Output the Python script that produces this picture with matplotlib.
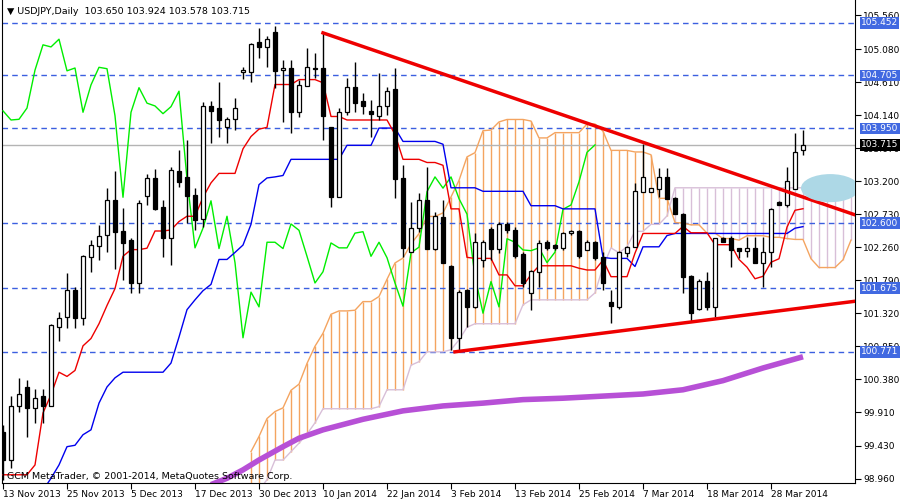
import matplotlib
matplotlib.use("Agg")
import matplotlib.pyplot as plt
import matplotlib.transforms as mtransforms
from matplotlib.patches import Ellipse
import numpy as np

# daily OHLC, one row per bar (bar 0 = 13 Nov 2013)
opens = [99.63, 99.23, 100.00, 100.26, 99.97, 100.13, 100.00, 101.12, 101.27, 101.65,
         101.25, 102.12, 102.28, 102.43, 102.92, 102.49, 102.35, 101.75, 102.99, 103.24,
         102.82, 102.39, 103.34, 103.26, 103.00, 102.66, 104.27, 104.23, 103.97, 104.08,
         104.75, 104.75, 105.17, 105.11, 105.32, 104.78, 104.80, 104.18, 104.55, 104.81,
         104.80, 103.96, 102.97, 104.18, 104.53, 104.33, 104.20, 104.13, 104.27, 104.50,
         103.24, 102.19, 102.53, 102.92, 102.24, 102.69, 101.98, 100.97, 101.64, 101.41,
         102.08, 102.52, 102.24, 102.58, 102.50, 102.16, 101.61, 101.91, 102.33, 102.28,
         102.25, 102.46, 102.49, 102.22, 102.33, 102.12, 101.47, 101.41, 102.18, 102.26,
         103.05, 103.05, 103.09, 103.26, 102.96, 102.73, 101.85, 101.38, 101.78, 101.41,
         102.39, 102.39, 102.25, 102.21, 102.25, 102.04, 102.19, 102.90, 102.86, 103.09,
         103.650]
highs = [99.73, 100.14, 100.40, 100.37, 100.24, 100.24, 101.17, 101.34, 101.89, 101.69,
         102.15, 102.36, 102.58, 103.10, 103.34, 102.82, 102.39, 102.93, 103.30, 103.37,
         102.93, 103.40, 103.64, 103.79, 103.10, 104.33, 104.34, 104.61, 104.11, 104.38,
         104.82, 105.17, 105.38, 105.27, 105.41, 104.92, 104.92, 104.64, 105.09, 105.02,
         105.31, 103.96, 104.24, 104.67, 104.90, 104.45, 104.35, 104.74, 104.54, 104.81,
         103.43, 102.90, 103.03, 103.40, 102.76, 102.93, 102.00, 101.65, 101.66, 102.46,
         102.36, 102.55, 102.62, 102.62, 102.55, 102.19, 101.93, 102.36, 102.36, 102.30,
         102.48, 102.50, 102.50, 102.36, 102.35, 102.19, 101.65, 102.20, 102.28, 103.17,
         103.73, 103.10, 103.39, 103.39, 102.97, 102.75, 101.86, 101.80, 101.91, 102.39,
         102.40, 102.42, 102.25, 102.41, 102.41, 102.41, 102.82, 102.92, 103.40, 103.88,
         103.924]
lows = [98.95, 99.12, 99.91, 99.56, 99.76, 99.76, 100.00, 100.92, 101.11, 101.11,
        101.15, 101.91, 102.08, 102.19, 101.95, 101.79, 101.61, 101.61, 102.86, 102.79,
        102.12, 102.01, 103.12, 102.60, 102.50, 102.55, 103.74, 103.83, 103.74, 103.93,
        104.65, 104.61, 104.95, 104.82, 104.53, 104.04, 103.88, 104.11, 104.55, 104.67,
        103.79, 102.83, 102.97, 104.14, 104.18, 104.16, 103.83, 104.07, 104.14, 102.96,
        102.12, 102.19, 102.48, 102.24, 102.22, 102.04, 100.80, 100.80, 101.12, 101.40,
        101.98, 102.08, 102.18, 102.46, 102.11, 101.69, 101.37, 101.69, 102.22, 102.22,
        102.22, 102.43, 102.11, 102.22, 102.08, 101.65, 101.18, 101.38, 102.12, 102.26,
        103.04, 103.04, 102.97, 102.95, 102.73, 101.61, 101.20, 101.36, 101.37, 101.27,
        102.33, 101.98, 102.11, 102.12, 102.04, 101.69, 101.98, 102.86, 102.83, 103.09,
        103.578]
closes = [99.23, 100.00, 100.17, 99.97, 100.11, 100.00, 101.14, 101.25, 101.65, 101.25,
          102.13, 102.28, 102.41, 102.92, 102.48, 102.32, 101.75, 102.89, 103.24, 102.80,
          102.39, 103.36, 103.19, 102.99, 102.65, 104.26, 104.20, 104.07, 104.08, 104.24,
          104.78, 105.14, 105.11, 105.22, 104.77, 104.81, 104.18, 104.57, 104.82, 104.80,
          104.13, 102.97, 104.18, 104.53, 104.31, 104.27, 104.16, 104.26, 104.48, 103.23,
          102.25, 102.53, 102.92, 102.24, 102.70, 102.04, 100.97, 101.62, 101.41, 102.33,
          102.33, 102.24, 102.59, 102.50, 102.13, 101.75, 101.91, 102.32, 102.25, 102.25,
          102.46, 102.48, 102.13, 102.33, 102.11, 101.75, 101.42, 102.18, 102.26, 103.05,
          103.26, 103.10, 103.26, 102.95, 102.73, 101.84, 101.32, 101.77, 101.41, 102.38,
          102.33, 102.22, 102.21, 102.25, 102.04, 102.19, 102.80, 102.86, 103.19, 103.61,
          103.715]

# indicator values before enough history exists on the chart
tenkan_early = [99.02, 99.02, 99.02, 99.02, 99.16, 99.90, 100.16, 100.48]
kijun_early = [98.80, 98.80, 98.80, 98.80, 98.80, 98.80, 98.97, 99.16, 99.42, 99.44,
               99.59, 99.66, 100.04, 100.27, 100.40, 100.48, 100.48, 100.48, 100.48, 100.48,
               100.48, 100.61, 100.98, 101.37, 101.51]
spanb_early = [98.73, 98.80, 98.95, 99.23, 99.23, 99.35, 99.47, 99.60, 99.76, 99.96,
               99.96, 99.96, 99.96, 99.96, 99.96, 99.96, 99.99, 100.23, 100.23, 100.23,
               100.58, 100.63, 100.77, 100.77, 100.77, 100.80, 100.94, 101.12, 101.17, 101.17,
               101.17, 101.17, 101.17, 101.17, 101.44, 101.51, 101.51, 101.51, 101.51, 101.51,
               101.51, 101.51, 101.51, 101.61, 101.98, 102.25]  # bars 31..76

ma_bars = [26, 28, 30, 32, 35, 37, 40, 45, 50, 55, 60, 65, 70, 75, 80, 85, 90, 95, 100]
ma_vals = [98.88, 98.97, 99.09, 99.23, 99.42, 99.54, 99.66, 99.81, 99.93, 100.00,
           100.04, 100.09, 100.11, 100.14, 100.17, 100.23, 100.36, 100.54, 100.70]

levels = [105.452, 104.705, 103.950, 102.600, 101.675, 100.771]
last_price = 103.715
axis_ticks = [105.560, 105.080, 104.610, 104.140, 103.670, 103.200, 102.730, 102.260,
              101.790, 101.320, 100.850, 100.380, 99.910, 99.430, 98.960]
date_labels = ["13 Nov 2013", "25 Nov 2013", "5 Dec 2013", "17 Dec 2013", "30 Dec 2013",
               "10 Jan 2014", "22 Jan 2014", "3 Feb 2014", "13 Feb 2014", "25 Feb 2014",
               "7 Mar 2014", "18 Mar 2014", "28 Mar 2014"]

upper_trend = ([40, 106.5], [105.31, 102.72])
lower_trend = ([56.5, 106.5], [100.77, 101.49])

o, h, l, c = (np.array(a) for a in (opens, highs, lows, closes))
n = len(c)
bars = np.arange(n)


def mid_range(period, early):
    out = np.full(n, np.nan)
    out[:len(early)] = early
    for i in range(period - 1, n):
        out[i] = (h[i - period + 1:i + 1].max() + l[i - period + 1:i + 1].min()) / 2
    return out


tenkan = mid_range(9, tenkan_early)
kijun = mid_range(26, kijun_early)

cloud_x = np.arange(31, n + 6)
span_a = np.array([(tenkan[j - 26] + kijun[j - 26]) / 2 for j in cloud_x])
span_b = []
for j in cloud_x:
    if j < 77:
        span_b.append(spanb_early[j - 31])
    else:
        s = j - 26
        span_b.append((h[s - 51:s + 1].max() + l[s - 51:s + 1].min()) / 2)
span_b = np.array(span_b)

FS = 6.5
fig = plt.figure(figsize=(9, 5), dpi=100)
ax = fig.add_axes([2 / 900, 17 / 500, 853 / 900, 483 / 500])
ax.set_xlim(-0.125, 106.5)
ax.set_ylim(98.903, 105.778)

# cloud hatching
cols = np.where(span_a >= span_b, "#f4a460", "#d8bfd8")
ax.vlines(cloud_x, span_a, span_b, colors=cols, linewidth=1, zorder=1)
ax.plot(cloud_x, span_a, color="#f4a460", lw=1, zorder=2)
ax.plot(cloud_x, span_b, color="#d8bfd8", lw=1, zorder=2)

for lv in levels:
    ax.axhline(lv, color="#3b5fe0", lw=1, ls=(0, (4, 3)), zorder=1)
ax.axhline(last_price, color="#b4b4b4", lw=1, zorder=1)

ax.plot(ma_bars, ma_vals, color="#b750d6", lw=4, solid_capstyle="butt", zorder=2)
ax.plot(bars[:n - 26], c[26:], color="#00ee00", lw=1, zorder=3)
ax.plot(bars, kijun, color="#0000ee", lw=1, zorder=3)
ax.plot(bars, tenkan, color="#ee0000", lw=1, zorder=3)

# candles
up = c >= o
ax.vlines(bars, l, h, color="black", lw=1, zorder=4)
ax.bar(bars, np.abs(c - o) + 0.005, bottom=np.minimum(o, c), width=0.6,
       color=np.where(up, "white", "black"), edgecolor="black", linewidth=0.9, zorder=5)

ax.plot(*upper_trend, color="#ee0000", lw=2.5, zorder=6)
ax.plot(*lower_trend, color="#ee0000", lw=2.5, zorder=6)
ax.add_patch(Ellipse((103.4, 103.1), 7.3, 0.4, color="#add8e6", zorder=6, lw=0))

# axes styling
ax.spines["top"].set_visible(False)
ax.yaxis.tick_right()
ax.set_yticks(axis_ticks)
ax.set_yticklabels([f"{t:.3f}" for t in axis_ticks], fontsize=FS)
ax.tick_params(axis="y", length=4, pad=2)
ax.set_xticks(np.arange(0, 8 * len(date_labels), 8))
ax.set_xticklabels(date_labels, fontsize=FS, ha="left")
ax.tick_params(axis="x", length=4, pad=1)

trans = mtransforms.blended_transform_factory(ax.transAxes, ax.transData)
for lv in levels:
    ax.text(1.007, lv, f"{lv:.3f}", transform=trans, fontsize=FS, color="white",
            va="center", ha="left", zorder=10,
            bbox=dict(boxstyle="square,pad=0.15", fc="#4169e1", ec="none"))
ax.text(1.007, last_price, f"{last_price:.3f}", transform=trans, fontsize=FS, color="white",
        va="center", ha="left", zorder=10,
        bbox=dict(boxstyle="square,pad=0.15", fc="black", ec="none"))

ax.text(0.006, 0.985, "\u25bc USDJPY,Daily  103.650 103.924 103.578 103.715",
        transform=ax.transAxes, fontsize=FS + 0.3, va="top", ha="left")
ax.text(0.006, 0.005, "GCM MetaTrader, \u00a9 2001-2014, MetaQuotes Software Corp.",
        transform=ax.transAxes, fontsize=FS + 0.3, va="bottom", ha="left")

fig.savefig("out.png", dpi=100)
